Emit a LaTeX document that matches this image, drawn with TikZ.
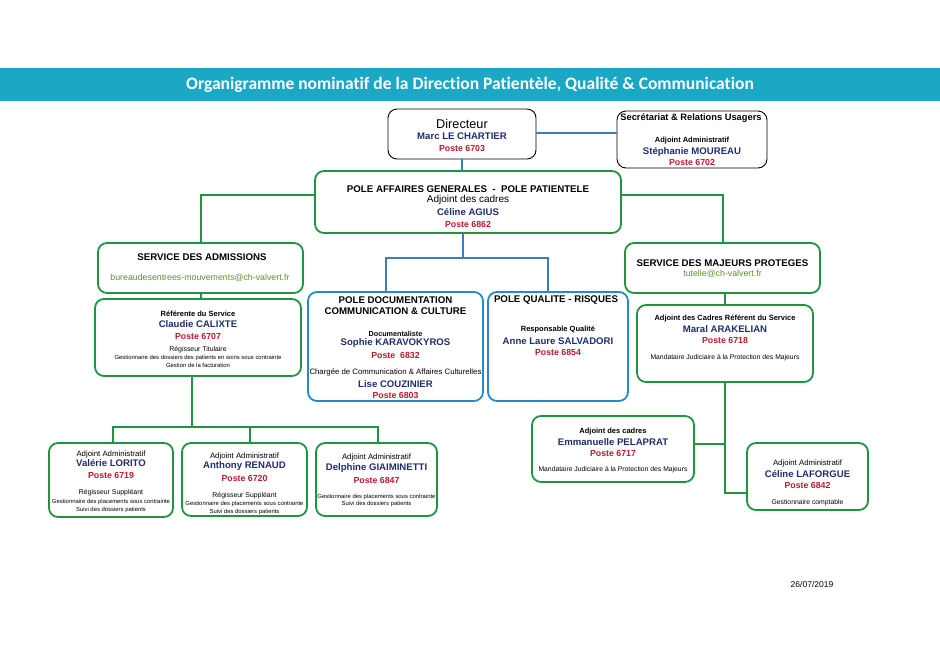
\documentclass[tikz,border=0pt]{standalone}
\usepackage{fontspec}
\setmainfont{Liberation Sans}
\newfontfamily\titlefont[Ligatures=NoCommon]{Carlito}
\newcommand{\myfs}[1]{\fontsize{#1}{#1}\selectfont}
\definecolor{teal}{RGB}{27,168,197}
\definecolor{mygreen}{RGB}{30,150,65}
\definecolor{linkblue}{RGB}{60,125,190}
\definecolor{poleblue}{RGB}{35,140,200}
\definecolor{navy}{RGB}{31,45,110}
\definecolor{pred}{RGB}{190,25,45}
\definecolor{mailgreen}{RGB}{95,140,55}
\tikzset{
  box/.style={rounded corners=9pt, inner sep=0pt},
  gbox/.style={box, draw=mygreen, line width=1.8pt},
  kbox/.style={box, draw=black, line width=0.9pt},
  pbox/.style={box, draw=poleblue, line width=1.8pt},
  gline/.style={draw=mygreen, line width=2pt},
  bline/.style={draw=linkblue, line width=2pt},
  t/.style={inner sep=0pt, anchor=center, align=center},
  head/.style={t, font=\myfs{9.7}\bfseries},
  nm/.style={t, font=\myfs{9.6}\bfseries, text=navy},
  ps/.style={t, font=\myfs{8.8}\bfseries, text=pred},
  rlb/.style={t, font=\myfs{7.5}\bfseries},
  rl/.style={t, font=\myfs{7.8}},
  tiny/.style={t, font=\myfs{5.9}},
  sm/.style={t, font=\myfs{6.9}},
  mail/.style={t, font=\myfs{8.8}, text=mailgreen}
}
\begin{document}
\begin{tikzpicture}[x=1pt,y=-1pt]
\useasboundingbox (0,0) rectangle (940,665);
% title bar
\fill[teal] (0,68) rectangle (940,101);
\node[t, font=\titlefont\bfseries\myfs{17.5}, text=white] (title) at (470,85) {Organigramme nominatif de la Direction Patientèle, Qualité \& Communication};

% boxes
\node[kbox, minimum width=148pt, minimum height=50pt] (dir) at (462,134) {};
\node[kbox, minimum width=150pt, minimum height=57pt] (sec) at (692,139.5) {};
\node[gbox, minimum width=306pt, minimum height=62pt] (ag) at (468,202) {};
\node[gbox, minimum width=205pt, minimum height=50pt] (adm) at (200.5,268) {};
\node[gbox, minimum width=206pt, minimum height=77pt] (ref) at (198,337.5) {};
\node[gbox, minimum width=124pt, minimum height=74pt] (val) at (111,480) {};
\node[gbox, minimum width=125pt, minimum height=73pt] (ant) at (244.5,479.5) {};
\node[gbox, minimum width=121pt, minimum height=73pt] (del) at (376.5,479.5) {};
\node[pbox, minimum width=175pt, minimum height=109pt] (doc) at (395.5,346.5) {};
\node[pbox, minimum width=140pt, minimum height=109pt] (qual) at (558,346.5) {};
\node[gbox, minimum width=195pt, minimum height=50pt] (maj) at (722.5,268) {};
\node[gbox, minimum width=176pt, minimum height=77pt] (mar) at (725,343.5) {};
\node[gbox, minimum width=162pt, minimum height=66pt] (emm) at (613,449) {};
\node[gbox, minimum width=121pt, minimum height=67pt] (cel) at (807.5,476.5) {};

% connectors
\draw[bline] (dir.east |- 0,133) -- (sec.west |- 0,133);
\draw[bline] (dir.south) -- (dir.south |- ag.north);
\coordinate (bj) at (463,258);
\draw[bline] (ag.south -| bj) -- (bj);
\draw[bline] ([xshift=-10pt]doc.north) |- ([xshift=-10pt]qual.north |- bj) -- ([xshift=-10pt]qual.north);
\draw[gline] ([yshift=7pt]ag.west) -| (adm.north);
\draw[gline] ([yshift=7pt]ag.east) -| (maj.north);
\draw[gline] (adm.south) -- (adm.south |- ref.north);
\coordinate (gj) at (192,427);
\draw[gline] (ref.south -| gj) -- (gj);
\draw[gline] ([xshift=2pt]val.north) |- ([xshift=1pt]del.north |- gj) -- ([xshift=1pt]del.north);
\draw[gline] ([xshift=5pt]ant.north) -- ([xshift=5pt]ant.north |- gj);
\draw[gline] (mar.north |- maj.south) -- (mar.north);
\draw[gline] (mar.south) |- ([yshift=-16pt]cel.west);
\draw[gline] ([yshift=5pt]emm.east) -- ([yshift=5pt]emm.east -| mar.south);

% Directeur
\node[t, font=\myfs{12.7}] (d1) at (462,124) {Directeur};
\node[nm] (d2) at (462,136) {Marc LE CHARTIER};
\node[ps] (d3) at (462,148) {Poste 6703};
% Secretariat
\node[t, font=\myfs{9.3}\bfseries] (s1) at (691,118) {Secrétariat \& Relations Usagers};
\node[rlb] (s2) at (692,141) {Adjoint Administratif};
\node[nm] (s3) at (692,152) {Stéphanie MOUREAU};
\node[ps] (s4) at (692,162) {Poste 6702};
% Pole AG
\node[head] (a1) at (468,189) {POLE AFFAIRES GENERALES\ \ -\ \ POLE PATIENTELE};
\node[t, font=\myfs{10}] (a2) at (468,200) {Adjoint des cadres};
\node[nm] (a3) at (468,212) {Céline AGIUS};
\node[ps] (a4) at (468,224) {Poste 6862};
% Admissions
\node[head] (m1) at (202,257) {SERVICE DES ADMISSIONS};
\node[mail] (m2) at (200,278) {bureaudesentrees-mouvements@ch-valvert.fr};
% Referente
\node[rlb] (r1) at (198,314) {Référente du Service};
\node[nm] (r2) at (198,324) {Claudie CALIXTE};
\node[ps] (r3) at (198,336) {Poste 6707};
\node[sm] (r4) at (198,350) {Régisseur Titulaire};
\node[tiny] (r5) at (198,358) {Gestionnaire des dossiers des patients en soins sous contrainte};
\node[tiny] (r6) at (198,365) {Gestion de la facturation};
% Valerie
\node[rl] (v1) at (111,454) {Adjoint Administratif};
\node[nm] (v2) at (111,463) {Valérie LORITO};
\node[ps] (v3) at (111,475) {Poste 6719};
\node[sm] (v4) at (111,493) {Régisseur Suppléant};
\node[tiny] (v5) at (111,502) {Gestionnaire des placements sous contrainte};
\node[tiny] (v6) at (111,510) {Suivi des dossiers patients};
% Anthony
\node[rl] (n1) at (244.5,456) {Adjoint Administratif};
\node[nm] (n2) at (244.5,466) {Anthony RENAUD};
\node[ps] (n3) at (244.5,478) {Poste 6720};
\node[sm] (n4) at (244.5,496) {Régisseur Suppléant};
\node[tiny] (n5) at (244.5,504) {Gestionnaire des placements sous contrainte};
\node[tiny] (n6) at (244.5,512) {Suivi des dossiers patients};
% Delphine
\node[rl] (e1) at (376.5,457) {Adjoint Administratif};
\node[nm] (e2) at (376.5,468) {Delphine GIAIMINETTI};
\node[ps] (e3) at (376.5,480) {Poste 6847};
\node[tiny] (e4) at (376.5,497) {Gestionnaire des placements sous contrainte};
\node[tiny] (e5) at (376.5,504) {Suivi des dossiers patients};
% Pole doc
\node[head] (p1) at (395.5,300) {POLE DOCUMENTATION};
\node[head] (p2) at (395.5,311) {COMMUNICATION \& CULTURE};
\node[t, font=\myfs{7.2}\bfseries] (p3) at (395.5,334) {Documentaliste};
\node[nm] (p4) at (395.5,343) {Sophie KARAVOKYROS};
\node[ps] (p5) at (395.5,355) {Poste\ \ 6832};
\node[t, font=\myfs{7.8}] (p6) at (395.5,372) {Chargée de Communication \& Affaires Culturelles};
\node[nm] (p7) at (395.5,384) {Lise COUZINIER};
\node[ps] (p8) at (395.5,395) {Poste 6803};
% Pole qualite
\node[head] (q1) at (556,300) {POLE QUALITE - RISQUES};
\node[rlb] (q2) at (558,330) {Responsable Qualité};
\node[nm] (q3) at (558,341) {Anne Laure SALVADORI};
\node[ps] (q4) at (558,352) {Poste 6854};
% Majeurs
\node[head] (j1) at (722.5,263) {SERVICE DES MAJEURS PROTEGES};
\node[mail] (j2) at (722.5,274) {tutelle@ch-valvert.fr};
% Maral
\node[rlb] (k1) at (725,319) {Adjoint des Cadres Référent du Service};
\node[nm] (k2) at (725,329) {Maral ARAKELIAN};
\node[ps] (k3) at (725,340) {Poste 6718};
\node[t, font=\myfs{6.8}] (k4) at (725,358) {Mandataire Judiciaire à la Protection des Majeurs};
% Emmanuelle
\node[rlb] (u1) at (613,432) {Adjoint des cadres};
\node[nm] (u2) at (613,442) {Emmanuelle PELAPRAT};
\node[ps] (u3) at (613,453) {Poste 6717};
\node[t, font=\myfs{6.8}] (u4) at (613,470) {Mandataire Judiciaire à la Protection des Majeurs};
% Celine
\node[rl] (c1) at (807.5,463) {Adjoint Administratif};
\node[nm] (c2) at (807.5,474) {Céline LAFORGUE};
\node[ps] (c3) at (807.5,485) {Poste 6842};
\node[t, font=\myfs{6.8}] (c4) at (807.5,503) {Gestionnaire comptable};
% date
\node[t, font=\myfs{8.5}] (date) at (812,584) {26/07/2019};
\end{tikzpicture}
\end{document}
